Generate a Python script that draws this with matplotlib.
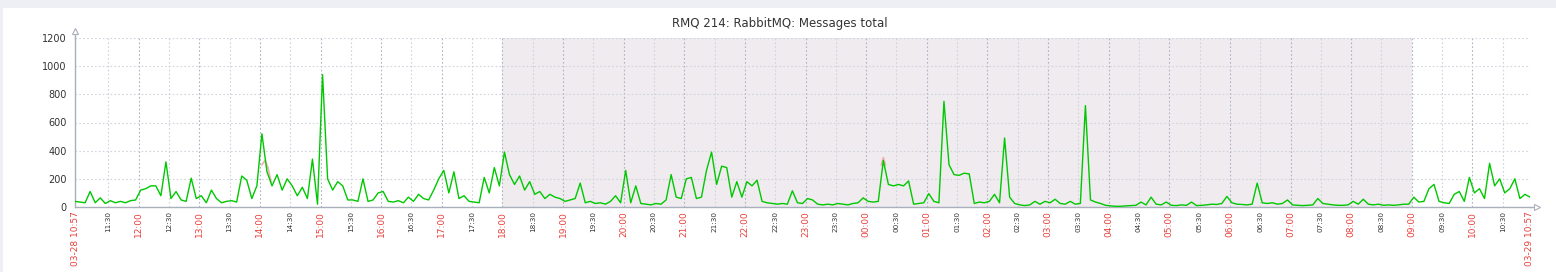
import matplotlib
matplotlib.use("Agg")
import matplotlib.pyplot as plt
from matplotlib.patches import Rectangle
import numpy as np

# ── Data ──────────────────────────────────────────────────────────────────────

TITLE = "RMQ 214: RabbitMQ: Messages total"
START_CLOCK = "10:57"
START_LABEL = "03-28 10:57"
END_LABEL = "03-29 10:57"
SPAN_MIN = 1440
STEP_MIN = 5

# one value every 5 min starting 03-28 10:57, one row per hour
messages = [
    40, 35, 30, 110, 30, 65, 25, 45, 30, 40, 30, 45,        # 10:57
    50, 120, 130, 150, 150, 80, 320, 60, 110, 50, 40, 205,  # 11:57
    60, 80, 30, 120, 60, 30, 40, 45, 35, 220, 190, 60,      # 12:57
    150, 520, 250, 150, 230, 120, 200, 150, 80, 140, 60, 340,  # 13:57
    20, 940, 200, 120, 180, 150, 50, 50, 40, 200, 40, 50,   # 14:57
    100, 110, 40, 35, 45, 30, 70, 40, 90, 60, 50, 120,      # 15:57
    200, 260, 100, 250, 60, 80, 40, 35, 30, 210, 100, 280,  # 16:57
    150, 390, 230, 160, 220, 120, 180, 90, 110, 60, 90, 70,  # 17:57
    60, 40, 50, 60, 170, 30, 40, 25, 30, 20, 40, 80,        # 18:57
    30, 260, 30, 150, 25, 20, 15, 25, 20, 50, 230, 70,      # 19:57
    60, 200, 210, 60, 70, 260, 390, 160, 290, 280, 70, 180,  # 20:57
    70, 180, 150, 190, 40, 30, 25, 20, 25, 20, 115, 30,     # 21:57
    25, 60, 50, 20, 15, 20, 15, 25, 20, 15, 25, 30,         # 22:57
    65, 40, 35, 40, 330, 160, 150, 160, 150, 185, 20, 25,   # 23:57
    30, 95, 40, 30, 750, 300, 230, 225, 240, 235, 25, 35,   # 00:57
    30, 40, 90, 30, 490, 70, 25, 15, 10, 15, 40, 20,        # 01:57
    40, 30, 55, 25, 20, 40, 20, 25, 720, 50, 35, 25,        # 02:57
    12, 8, 5, 5, 8, 10, 12, 35, 15, 70, 20, 15,             # 03:57
    35, 12, 10, 15, 12, 35, 10, 12, 15, 20, 18, 25,         # 04:57
    75, 30, 20, 18, 15, 20, 170, 30, 25, 30, 20, 25,        # 05:57
    50, 15, 12, 10, 12, 15, 60, 25, 20, 15, 12, 12,         # 06:57
    15, 40, 20, 55, 20, 15, 20, 12, 15, 12, 15, 20,         # 07:57
    20, 70, 35, 40, 130, 160, 40, 30, 25, 90, 110, 40,      # 08:57
    210, 100, 130, 60, 310, 150, 200, 100, 130, 200, 60, 90,  # 09:57
    70,                                                     # 10:57
]

# faint red traces that poke above the green one in two places
red1_clock = ["14:02", "14:05", "14:08", "14:11"]
red1_values = [300, 330, 280, 180]
red2_clock = ["00:15", "00:17", "00:19"]
red2_values = [300, 350, 300]

NIGHT = ("18:00", "09:00")   # grey shading
YTICKS = [0, 200, 400, 600, 800, 1000, 1200]


def offset(clock):
    """minutes since 03-28 10:57"""
    h, m = map(int, clock.split(":"))
    h0, m0 = map(int, START_CLOCK.split(":"))
    d = (h * 60 + m) - (h0 * 60 + m0)
    return d if d >= 0 else d + 1440


t = np.arange(len(messages)) * STEP_MIN

# ── Plot ──────────────────────────────────────────────────────────────────────

GREEN = "#00c800"
RED_LBL = "#e8403c"
AXIS = "#a8b0bc"
GRID_HR = "#aab4c4"
GRID = "#cfd4dc"
SHADE = "#efebef"

W, H = 1556, 272
fig = plt.figure(figsize=(W / 100, H / 100), dpi=100)
fig.patch.set_facecolor("white")
fig.add_artist(Rectangle((0, 1 - 8 / H), 1, 8 / H, transform=fig.transFigure,
                         facecolor="#eeeef5", edgecolor="none"))
fig.add_artist(Rectangle((0, 0), 3 / W, 1, transform=fig.transFigure,
                         facecolor="#eeeef5", edgecolor="none"))

L, R, T, B = 75, 1530, 38, 207
ax = fig.add_axes([L / W, 1 - B / H, (R - L) / W, (B - T) / H])
ax.set_xlim(0, SPAN_MIN)
ax.set_ylim(0, 1200)
ax.set_facecolor("white")

ax.axvspan(offset(NIGHT[0]), offset(NIGHT[1]), color=SHADE, lw=0, zorder=0)

# ticks: both ends plus every half hour from 11:30
h0, m0 = map(int, START_CLOCK.split(":"))
ticks = [0] + list(range(offset("11:30"), SPAN_MIN, 30)) + [SPAN_MIN]


def clock_of(m):
    return divmod((h0 * 60 + m0 + m) % 1440, 60)


for m in ticks[1:-1]:
    on_hour = clock_of(m)[1] == 0
    ax.axvline(m, color=GRID_HR if on_hour else GRID, lw=0.8,
               ls=(0, (1.5, 2)), zorder=1)
ax.axvline(SPAN_MIN, color=GRID, lw=0.8, ls=(0, (1.5, 2)), zorder=1)
for y in YTICKS[1:]:
    ax.axhline(y, color=GRID, lw=0.8, ls=(0, (1.5, 2)), zorder=1)

for rc, rv in ((red1_clock, red1_values), (red2_clock, red2_values)):
    ax.plot([offset(c) for c in rc], rv, color="#f0a0a0", lw=1.3,
            alpha=0.8, zorder=2)
ax.plot(t, messages, color=GREEN, lw=1.0, zorder=3)

# axes with open arrow heads
for s in ("top", "right"):
    ax.spines[s].set_visible(False)
for s in ("left", "bottom"):
    ax.spines[s].set_color(AXIS)
    ax.spines[s].set_linewidth(1.0)
ax.plot([0, 0], [1.0, 1.035], transform=ax.transAxes, color=AXIS, lw=1.0,
        clip_on=False)
ax.plot([0], [1.04], transform=ax.transAxes, marker="^", ms=5, mfc="white",
        mec=AXIS, mew=0.8, clip_on=False)
ax.plot([1.0, 1.004], [0, 0], transform=ax.transAxes, color=AXIS, lw=1.0,
        clip_on=False)
ax.plot([1.0045], [0], transform=ax.transAxes, marker=">", ms=5, mfc="white",
        mec=AXIS, mew=0.8, clip_on=False)

ax.set_yticks(YTICKS)
ax.set_yticklabels([str(v) for v in YTICKS], fontsize=7, color="#333333")
ax.tick_params(axis="y", length=0, pad=6)

xlabels = []
for m in ticks:
    hh, mm = clock_of(m)
    if m == 0:
        xlabels.append(START_LABEL)
    elif m == SPAN_MIN:
        xlabels.append(END_LABEL)
    else:
        xlabels.append(f"{hh:02d}:{mm:02d}")
ax.set_xticks(ticks)
ax.set_xticklabels(xlabels, rotation=90, va="top", ha="center")
ax.tick_params(axis="x", length=0, pad=3)
for lbl, m in zip(ax.get_xticklabels(), ticks):
    if m in (0, SPAN_MIN) or clock_of(m)[1] == 0:
        lbl.set_color(RED_LBL)
        lbl.set_fontsize(6.5)
    else:
        lbl.set_color("#333333")
        lbl.set_fontsize(5.2)

fig.text(780 / W, 1 - 24 / H, TITLE, ha="center", va="center",
         fontsize=8.5, color="#333333")

fig.savefig("out.png", dpi=100, facecolor=fig.get_facecolor())
